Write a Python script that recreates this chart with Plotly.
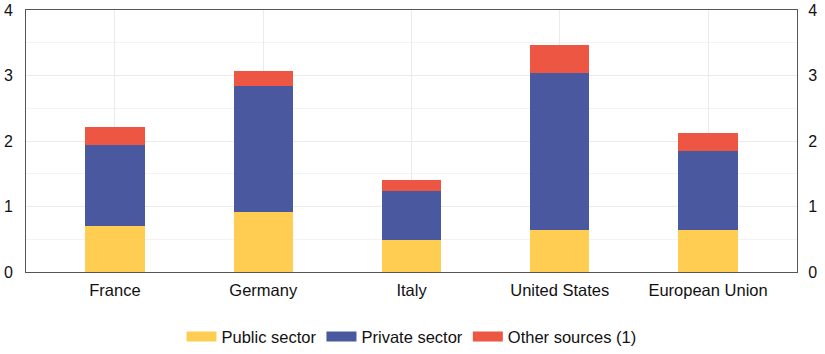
import plotly.graph_objects as go

categories = ["France", "Germany", "Italy", "United States", "European Union"]
public_sector = [0.71, 0.92, 0.49, 0.64, 0.64]
private_sector = [1.23, 1.92, 0.75, 2.40, 1.21]
other_sources = [0.27, 0.23, 0.16, 0.43, 0.27]
series_names = ["Public sector", "Private sector", "Other sources (1)"]
y_ticks = [0, 1, 2, 3, 4]

colors = ["#FECD51", "#4A58A0", "#EC5643"]
font = "Liberation Sans, Arial, sans-serif"

fig = go.Figure()
for name, vals, c in zip(series_names, [public_sector, private_sector, other_sources], colors):
    fig.add_trace(go.Bar(x=categories, y=vals, name=name, marker=dict(color=c, line=dict(width=0)),
                         width=0.4, showlegend=False))

# legend entries with wide rectangular swatches
for name, c in zip(series_names, colors):
    fig.add_trace(go.Scatter(x=[None], y=[None], mode="lines", name=name,
                             line=dict(color=c, width=13), hoverinfo="skip"))

# invisible trace for the right axis
fig.add_trace(go.Scatter(x=categories, y=public_sector, yaxis="y2", mode="markers",
                         marker=dict(opacity=0), showlegend=False, hoverinfo="skip"))

fig.update_layout(
    barmode="stack",
    width=825, height=354,
    margin=dict(l=26, r=28, t=10, b=82, autoexpand=False),
    paper_bgcolor="white", plot_bgcolor="white",
    font=dict(family=font, color="#111", size=16),
    xaxis=dict(range=[-0.6, 4.6], showgrid=True, gridcolor="#ebebeb", gridwidth=1,
               showline=True, linecolor="#555", linewidth=1, mirror=True,
               ticks="", tickfont=dict(size=16.5), fixedrange=True, automargin=False,
               ticklabelstandoff=3),
    yaxis=dict(range=[0, 4], tickvals=y_ticks, showgrid=True, gridcolor="#ebebeb",
               showline=True, linecolor="#555", linewidth=1, ticks="",
               tickfont=dict(size=16), zeroline=False, automargin=False,
               ticklabelstandoff=9,
               minor=dict(dtick=0.5, showgrid=True, gridcolor="#f3f3f3")),
    yaxis2=dict(range=[0, 4], tickvals=y_ticks, overlaying="y", side="right",
                showgrid=False, showline=True, linecolor="#555", linewidth=1,
                ticks="", tickfont=dict(size=16), zeroline=False, automargin=False,
                ticklabelstandoff=7),
    legend=dict(orientation="h", x=0.5, xanchor="center", y=-0.18, yanchor="top",
                font=dict(size=16.5), traceorder="normal", itemwidth=30),
)

fig.write_html("out.html")
